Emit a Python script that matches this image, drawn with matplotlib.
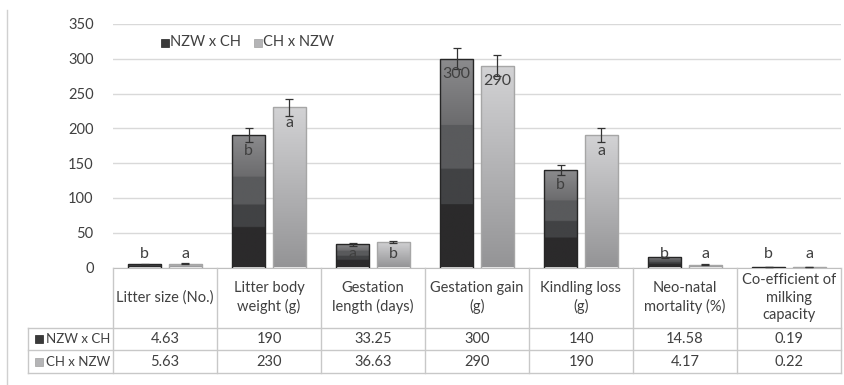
import numpy as np
import matplotlib
matplotlib.use("Agg")
import matplotlib.pyplot as plt
from matplotlib.lines import Line2D
from matplotlib.patches import Rectangle

plt.rcParams['font.family'] = ['Lato', 'DejaVu Sans']

categories = ["Litter size (No.)", "Litter body\nweight (g)", "Gestation\nlength (days)",
              "Gestation gain\n(g)", "Kindling loss\n(g)", "Neo-natal\nmortality (%)",
              "Co-efficient of\nmilking\ncapacity"]
series_names = ["NZW x CH", "CH x NZW"]
nzw_ch = [4.63, 190, 33.25, 300, 140, 14.58, 0.19]
ch_nzw = [5.63, 230, 36.63, 290, 190, 4.17, 0.22]
nzw_ch_err = [0.5, 10, 2, 15, 7, 1, 0]
ch_nzw_err = [0.5, 12, 2, 15, 10, 0.5, 0]
nzw_ch_letters = ["b", "b", "a", "300", "b", "b", "b"]
ch_nzw_letters = ["a", "a", "b", "290", "a", "a", "a"]
yticks = [0, 50, 100, 150, 200, 250, 300, 350]

W, H = 844, 385
fig = plt.figure(figsize=(W / 100, H / 100), dpi=100)

def fx(px):
    return px / W

def fy(py):
    return 1 - py / H

TXT = "#404040"
FS = 10.5
left_px, right_px, bot_px, top_px = 113, 841, 267.5, 24
ax = fig.add_axes([fx(left_px), fy(bot_px), fx(right_px - left_px), (bot_px - top_px) / H])
n = len(categories)
ax.set_xlim(-0.5, n - 0.5)
ax.set_ylim(0, 350)
ax.set_yticks(yticks)
ax.tick_params(axis='y', length=0, pad=14, labelsize=FS, labelcolor=TXT)
ax.set_xticks([])
for s in ["top", "right", "left"]:
    ax.spines[s].set_visible(False)
ax.spines["bottom"].set_color("#bfbfbf")
ax.grid(axis='y', color="#d9d9d9", linewidth=1)
ax.set_axisbelow(True)

def grad_rgb(stops, nrows=256):
    pos = np.array([p for p, c in stops])
    cols = np.array([matplotlib.colors.to_rgb(c) for p, c in stops])
    t = np.linspace(0, 1, nrows)
    img = np.stack([np.interp(t, pos, cols[:, k]) for k in range(3)], axis=-1)
    return img[:, None, :]

dark_img = grad_rgb([(0, "#2b2a2b"), (0.3, "#2b2a2b"), (0.301, "#414244"), (0.47, "#414244"),
                     (0.471, "#595a5c"), (0.68, "#595a5c"), (0.681, "#6b6b6d"), (1, "#8c8c8e")])
light_img = grad_rgb([(0, "#949496"), (1, "#d3d3d5")])

width = 0.32
offs = [-0.195, 0.195]
x = np.arange(n)
for vals, errs, img, edge, off, letters in [
        (nzw_ch, nzw_ch_err, dark_img, "#262626", offs[0], nzw_ch_letters),
        (ch_nzw, ch_nzw_err, light_img, "#a6a6a6", offs[1], ch_nzw_letters)]:
    bars = ax.bar(x + off, vals, width, color="none", edgecolor=edge, linewidth=1, zorder=3)
    for b in bars:
        x0, w, h = b.get_x(), b.get_width(), b.get_height()
        if h <= 0:
            continue
        im = ax.imshow(img, extent=[x0, x0 + w, 0, h], origin='lower', aspect='auto',
                       zorder=2, interpolation='bilinear')
        im.set_clip_path(b)
    ax.set_xlim(-0.5, n - 0.5)
    ax.set_ylim(0, 350)
    ax.errorbar(x + off, vals, yerr=errs, fmt='none', ecolor="#333333", elinewidth=0.9,
                capsize=3, capthick=0.9, zorder=4)
    for xi, v, lab in zip(x, vals, letters):
        yl = v - 22 if v > 60 else 19
        ax.text(xi + off, yl, lab, ha='center', va='center', fontsize=11.5, color=TXT, zorder=5)

# legend
leg_y = 42
fig.patches.append(Rectangle((fx(161), fy(leg_y + 4.5)), fx(8), 8 / H, transform=fig.transFigure,
                             facecolor="#3a3a3a", edgecolor="#222222", linewidth=0.5))
fig.text(fx(170), fy(leg_y), series_names[0], fontsize=FS, color=TXT, va='center', ha='left')
fig.patches.append(Rectangle((fx(254), fy(leg_y + 4.5)), fx(8), 8 / H, transform=fig.transFigure,
                             facecolor="#b4b4b6", edgecolor="#a0a0a0", linewidth=0.5))
fig.text(fx(263), fy(leg_y), series_names[1], fontsize=FS, color=TXT, va='center', ha='left')

# data table
LC = "#c8c8c8"
tab_left, hdr_bot, r1_bot, r2_bot = 28, 328, 350, 373
cat_w = (right_px - left_px) / n

def add_line(xs, ys):
    fig.add_artist(Line2D([fx(v) for v in xs], [fy(v) for v in ys], color=LC, linewidth=1,
                          transform=fig.transFigure))

for yy in [hdr_bot, r1_bot, r2_bot]:
    add_line([tab_left, right_px], [yy, yy])
add_line([tab_left, tab_left], [hdr_bot, r2_bot])
for i in range(n + 1):
    xx = left_px + i * cat_w
    add_line([xx, xx], [bot_px, r2_bot])

for i, cat in enumerate(categories):
    cx = left_px + (i + 0.5) * cat_w
    fig.text(fx(cx), fy((bot_px + hdr_bot) / 2), cat, ha='center', va='center', fontsize=FS,
             color=TXT, linespacing=1.32)
    for vals, (ya, yb) in [(nzw_ch, (hdr_bot, r1_bot)), (ch_nzw, (r1_bot, r2_bot))]:
        fig.text(fx(cx), fy((ya + yb) / 2), f"{vals[i]:g}", ha='center', va='center',
                 fontsize=FS, color=TXT)

for name, fc, ec, (ya, yb) in [(series_names[0], "#3a3a3a", "#222222", (hdr_bot, r1_bot)),
                               (series_names[1], "#b4b4b6", "#a0a0a0", (r1_bot, r2_bot))]:
    ym = (ya + yb) / 2
    fig.patches.append(Rectangle((fx(35), fy(ym + 4)), fx(8), 8 / H, transform=fig.transFigure,
                                 facecolor=fc, edgecolor=ec, linewidth=0.5))
    fig.text(fx(46), fy(ym), name, ha='left', va='center', fontsize=9.5, color=TXT)

# left border line
fig.add_artist(Line2D([fx(7), fx(7)], [fy(10), fy(385)], color="#d0d0d0", linewidth=1,
                      transform=fig.transFigure))

fig.savefig("out.png", dpi=100, facecolor="white")
